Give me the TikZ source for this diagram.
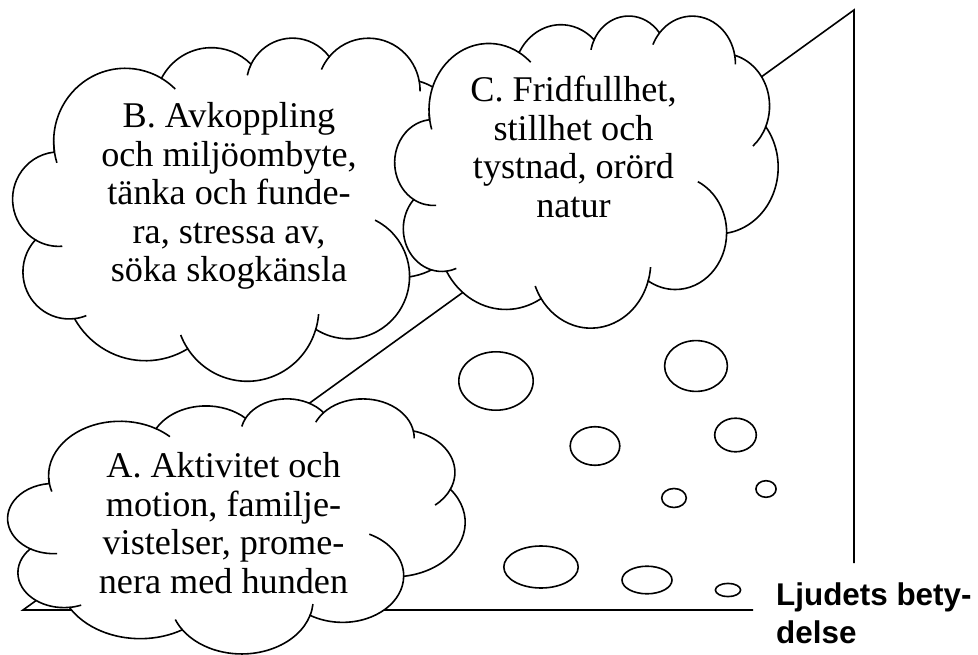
\documentclass[tikz,border=0pt]{standalone}
\usepackage{fontspec}
\setmainfont{Liberation Serif}
\newfontfamily\labelfont{Liberation Sans}
\newcommand\cloudhook[6]{\draw[ln] (#1,#2) ++(#5:#3 and #4) arc[start angle=#5,end angle=#6,x radius=#3,y radius=#4];}
\newcommand\thoughtcloud[4]{%
\begin{scope}[shift={(#1pt,-#2pt)},x=1cm,y=1cm,xscale=#3/1229.16,yscale=-#4/1229.16]
\draw[ln,fill=white] (3.9,14.37)
 arc[x radius=6.753, y radius=9.19,  start angle=172.25, end angle=300.36]
 arc[x radius=5.333, y radius=7.267, start angle=-152.02, end angle=-45.43]
 arc[x radius=4.365, y radius=5.945, start angle=-153.48, end angle=-37.33]
 arc[x radius=4.857, y radius=6.595, start angle=-139.70, end angle=-10.21]
 arc[x radius=5.333, y radius=7.273, start angle=-74.77, end angle=23.21]
 arc[x radius=6.775, y radius=9.22,  start angle=-37.53, end angle=81.86]
 arc[x radius=5.785, y radius=7.867, start angle=0.46, end angle=121.97]
 arc[x radius=6.752, y radius=9.215, start angle=16.85, end angle=146.25]
 arc[x radius=7.72,  y radius=10.543,start angle=58.98, end angle=150.20]
 arc[x radius=4.36,  y radius=5.918, start angle=83.31, end angle=223.09]
 arc[x radius=4.345, y radius=5.945, start angle=120.36, end angle=264.11]
 -- cycle;
\cloudhook{4.309}{20.425}{4.345}{5.945}{85.55}{120.36}
\cloudhook{5.298}{29.595}{4.36}{5.918}{68.23}{83.31}
\cloudhook{22.097}{34.148}{6.752}{9.215}{146.25}{158.48}
\cloudhook{22.097}{34.148}{6.752}{9.215}{4.74}{16.85}
\cloudhook{31.622}{30.145}{5.785}{7.867}{-64.03}{0.46}
\cloudhook{36.919}{12.599}{5.333}{7.273}{23.21}{49.64}
\cloudhook{33.540}{6.750}{4.857}{6.595}{-10.21}{0.82}
\cloudhook{33.540}{6.750}{4.857}{6.595}{-156.29}{-139.70}
\cloudhook{26.365}{6.090}{4.365}{5.945}{-167.73}{-153.48}
\cloudhook{10.591}{13.131}{6.753}{9.19}{-59.64}{-45.74}
\cloudhook{10.591}{13.131}{6.753}{9.19}{162.81}{177.24}
\end{scope}}
\begin{document}
\begin{tikzpicture}[x=1pt,y=-1pt,
  ln/.style={line width=1.6pt},
  ctext/.style={font=\fontsize{36.2}{38.5}\selectfont, anchor=base, inner sep=0pt},
  ltext/.style={font=\labelfont\bfseries\fontsize{31.4}{37}\selectfont, anchor=base west, inner sep=0pt}]
\useasboundingbox (0,0) rectangle (978,655);
% frame lines
\coordinate (top) at (854,10);
\coordinate (vbot) at (854,563);
\coordinate (corner) at (23,610);
\coordinate (bend) at (753,610);
\draw[ln] (vbot) -- (top) -- (corner) -- (bend);
% clouds
\thoughtcloud{13}{37}{458}{343}
\thoughtcloud{395}{15}{383}{312}
\thoughtcloud{8}{398}{457}{255}
% tail bubbles
\draw[ln] (496,381) ellipse[x radius=37.2pt, y radius=29.2pt];
\draw[ln] (696,366) ellipse[x radius=31.4pt, y radius=25.4pt];
\draw[ln] (595,446) ellipse[x radius=24.8pt, y radius=19.3pt];
\draw[ln] (735.5,435) ellipse[x radius=20.8pt, y radius=16.8pt];
\draw[ln] (674,498) ellipse[x radius=12.3pt, y radius=9.5pt];
\draw[ln] (766,489) ellipse[x radius=10.1pt, y radius=8.3pt];
\draw[ln] (541,567) ellipse[x radius=37.2pt, y radius=21pt];
\draw[ln] (647,580) ellipse[x radius=25pt, y radius=13.8pt];
\draw[ln] (728,590) ellipse[x radius=12.6pt, y radius=6.6pt];
% texts
\node[ctext] (b1) at (229,128) {B. Avkoppling};
\node[ctext] (b2) at (229,166.5) {och miljöombyte,};
\node[ctext] (b3) at (229,205) {tänka och funde-};
\node[ctext] (b4) at (229,243.5) {ra, stressa av,};
\node[ctext] (b5) at (229,282) {söka skogkänsla};
\node[ctext] (c1) at (573.5,102) {C. Fridfullhet,};
\node[ctext] (c2) at (573.5,140.4) {stillhet och};
\node[ctext] (c3) at (573.5,178.8) {tystnad, orörd};
\node[ctext] (c4) at (573.5,217.2) {natur};
\node[ctext] (a1) at (223.5,477.3) {A. Aktivitet och};
\node[ctext] (a2) at (223.5,516) {motion, familje-};
\node[ctext] (a3) at (223.5,554.7) {vistelser, prome-};
\node[ctext] (a4) at (223.5,593.3) {nera med hunden};
\node[ltext] (l1) at (776,605.5) {Ljudets bety-};
\node[ltext] (l2) at (776,643) {delse};
\end{tikzpicture}
\end{document}
